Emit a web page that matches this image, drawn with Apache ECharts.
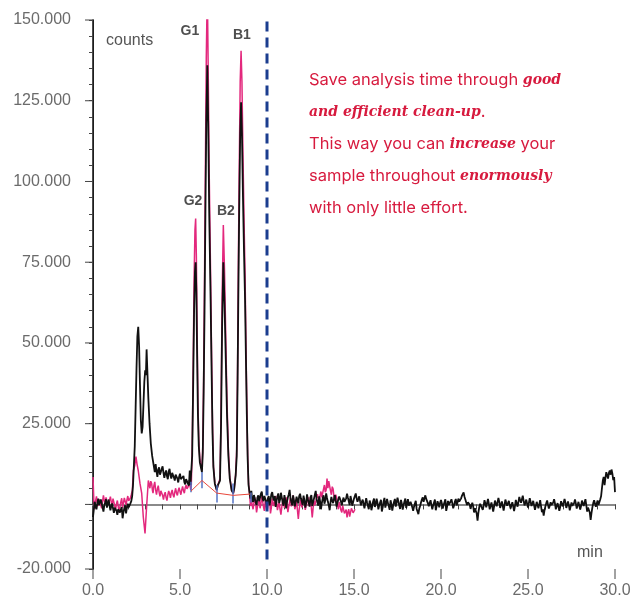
<!DOCTYPE html>
<html>
<head>
<meta charset="utf-8">
<script src="https://cdn.jsdelivr.net/npm/echarts@6/dist/echarts.min.js"></script>
<style>
  html, body { margin: 0; padding: 0; background: #fff; }
  #main { width: 637px; height: 603px; }
</style>
</head>
<body>
<div id="main"></div>
<script>
// black trace: [min, counts]
var blackTrace = [
  [0.0,-3900],[0.05,-1500],[0.1,800],[0.15,-700],[0.2,-1500],[0.25,400],[0.3,1800],[0.35,-200],[0.4,-600],[0.45,1500],
  [0.5,1200],[0.55,-900],[0.6,-2200],[0.65,-300],[0.7,600],[0.75,1600],[0.8,-1000],[0.85,300],[0.9,1500],[0.95,-400],
  [1.0,-1800],[1.05,-600],[1.1,300],[1.15,-1200],[1.2,-2600],[1.25,-1000],[1.3,-500],[1.35,-2000],[1.4,-3200],[1.45,-1500],
  [1.5,-900],[1.55,-2500],[1.6,-2400],[1.65,-800],[1.7,-4300],[1.75,-2500],[1.8,-1200],[1.85,-300],[1.9,-2800],[1.95,-1000],
  [2.0,200],[2.05,-900],[2.1,-1500],[2.15,300],[2.2,1000],[2.25,2500],[2.3,6000],
  [2.4,18000],[2.45,30000],[2.5,42000],[2.55,52000],[2.6,55000],[2.65,49000],
  [2.7,37000],[2.75,26000],[2.8,22000],[2.85,24000],[2.9,31000],[2.95,38000],[3.0,41500],[3.04,40000],[3.08,48000],[3.12,42000],
  [3.18,33000],[3.25,25000],[3.32,19000],[3.4,15000],[3.47,12700],
  [3.55,10000],[3.6,12500],[3.65,10200],[3.7,8500],[3.75,10800],[3.8,11500],[3.85,9200],[3.9,9000],[3.95,11000],[4.0,11800],
  [4.05,9800],[4.1,8200],[4.15,9600],[4.2,10500],[4.25,8800],[4.3,7800],[4.35,10200],[4.4,11000],[4.45,9000],[4.5,8000],
  [4.55,9800],[4.6,10200],[4.65,8300],[4.7,7400],[4.75,9200],[4.8,9800],[4.85,8000],[4.9,6800],[4.95,8600],[5.0,9500],
  [5.05,7800],[5.1,7200],[5.15,8300],[5.2,8800],[5.25,6900],[5.3,6200],[5.35,7800],[5.4,8400],[5.45,6600],[5.5,5800],
  [5.53,7500],[5.56,10500],[5.6,6000],[5.65,6000],
  // G2
  [5.7,15000],[5.76,38000],[5.81,60000],[5.86,72000],[5.9,75000],[5.94,66000],[5.98,48000],[6.03,28000],[6.08,18000],[6.14,13000],
  [6.2,11500],[6.26,10000],
  // G1
  [6.31,16000],[6.36,35000],[6.41,60000],[6.46,90000],[6.51,118000],[6.57,136000],[6.62,118000],[6.68,90000],[6.76,63000],[6.82,40000],
  [6.87,22000],[6.92,11500],[7.0,6500],[7.11,4500],
  // B2
  [7.18,6000],[7.3,7400],[7.36,25000],[7.42,55000],[7.49,75000],[7.56,62000],[7.63,45000],[7.7,28000],[7.78,15000],[7.86,8000],
  [7.97,4300],[8.06,3500],
  // B1
  [8.12,5000],[8.2,9000],[8.26,15000],[8.31,38000],[8.35,63000],[8.4,90000],[8.46,115000],[8.51,124500],[8.56,115000],[8.62,95000],
  [8.68,78000],[8.74,63000],[8.79,45000],[8.84,28000],[8.89,14000],[8.94,6000],[9.0,3500],
  // baseline after the peaks
  [9.05,1800],[9.1,4200],[9.15,1500],[9.2,800],[9.25,2900],[9.3,3500],[9.35,600],[9.4,-200],[9.45,2100],[9.5,2800],
  [9.55,1000],[9.6,500],[9.65,3300],[9.7,4000],[9.75,1700],[9.8,1000],[9.85,2600],[9.9,3200],[9.95,900],[10.0,-500],
  [10.05,1900],[10.1,2600],[10.15,-300],[10.2,300],[10.25,3100],[10.3,3800],[10.35,2000],[10.4,1200],[10.45,2600],[10.5,-800],
  [10.55,1100],[10.6,2500],[10.65,3400],[10.7,400],[10.75,1500],[10.8,3600],[10.85,2200],[10.9,600],[10.95,-400],[11.0,2900],
  [11.05,1500],[11.1,-1200],[11.15,800],[11.2,2200],[11.25,3100],[11.3,4500],[11.35,1900],[11.4,700],[11.45,-300],[11.5,2800],
  [11.55,3400],[11.6,-600],[11.65,900],[11.7,2400],[11.75,1200],[11.8,300],[11.85,2600],[11.9,3300],[11.95,1800],[12.0,900],
  [12.05,-200],[12.1,2700],[12.15,1300],[12.2,-1000],[12.25,400],[12.3,3100],[12.35,1600],[12.4,500],[12.45,-700],[12.5,2200],
  [12.55,2900],[12.6,-500],[12.65,700],[12.7,1800],[12.75,3000],[12.8,4200],[12.85,1700],[12.9,600],[12.95,-400],[13.0,2500],
  [13.05,1000],[13.1,-1500],[13.15,300],[13.2,1900],[13.25,2800],[13.3,200],[13.35,1300],[13.4,3400],[13.45,2000],[13.5,800],
  [13.55,-300],[13.6,-1800],[13.65,600],[13.7,2300],[13.75,1100],[13.8,400],[13.85,1700],[13.9,2900],[13.95,1200],[14.0,-700],
  [14.05,500],[14.1,1600],[14.15,2400],[14.2,3000],[14.25,900],[14.3,-300],[14.35,1200],[14.4,2100],[14.45,800],[14.5,200],
  [14.55,1900],[14.6,3300],[14.65,2100],[14.7,1000],[14.75,-200],[14.8,2600],[14.85,1300],[14.9,-400],[14.95,700],[15.0,1800],
  [15.05,2600],[15.1,3400],[15.15,1900],[15.2,800],[15.25,1700],[15.3,2500],[15.35,1000],[15.4,-300],[15.45,800],[15.5,1500],
  [15.55,200],[15.6,-1200],[15.65,400],[15.7,1900],[15.75,600],[15.8,-500],[15.85,-1500],[15.9,1200],[15.95,300],[16.0,-1800],
  [16.05,-600],[16.1,1000],[16.15,1800],[16.2,-800],[16.25,200],[16.3,1800],[16.35,500],[16.4,-1500],[16.45,-300],[16.5,600],
  [16.55,1400],[16.6,-2200],[16.65,-900],[16.7,900],[16.75,2000],[16.8,-1000],[16.85,300],[16.9,1700],[16.95,400],[17.0,-600],
  [17.05,-1700],[17.1,1300],[17.15,100],[17.2,-1900],[17.25,-400],[17.3,800],[17.35,1700],[17.4,-700],[17.45,600],[17.5,2100],
  [17.55,900],[17.6,-300],[17.65,-1400],[17.7,1400],[17.75,200],[17.8,-1600],[17.85,-200],[17.9,900],[17.95,1800],[18.0,-1100],
  [18.05,300],[18.1,1600],[18.15,-400],[18.2,-800],[18.25,800],[18.3,1200],[18.35,-900],[18.4,-2000],[18.45,-700],[18.5,300],
  [18.55,1100],[18.6,-1400],[18.65,-2200],[18.7,-3000],[18.75,-1300],[18.8,-500],[18.85,600],[18.9,1500],[18.95,2200],[19.0,800],
  [19.05,1900],[19.1,2800],[19.15,1700],[19.2,1200],[19.25,300],[19.3,-600],[19.35,500],[19.4,1300],[19.45,-200],[19.5,-1500],
  [19.55,-300],[19.6,600],[19.65,1500],[19.7,-1800],[19.75,-500],[19.8,1000],[19.85,200],[19.9,-900],[19.95,500],[20.0,1400],
  [20.05,300],[20.1,-1300],[20.15,-200],[20.2,700],[20.25,1600],[20.3,-2000],[20.35,-700],[20.4,1100],[20.45,-100],[20.5,-500],
  [20.55,900],[20.6,1600],[20.65,400],[20.7,-1200],[20.75,-300],[20.8,900],[20.85,1700],[20.9,-300],[20.95,600],[21.0,1800],
  [21.05,900],[21.1,700],[21.15,1800],[21.2,2600],[21.25,3100],[21.3,3700],[21.35,2400],[21.4,1500],[21.45,600],[21.5,-200],
  [21.55,700],[21.6,1200],[21.65,-100],[21.7,-1400],[21.75,-300],[21.8,500],[21.85,-600],[21.9,-2500],[21.95,-1200],[22.0,-1000],
  [22.05,-2800],[22.1,-5000],[22.15,-2500],[22.2,-800],[22.25,200],[22.3,800],[22.35,-300],[22.4,-1700],[22.45,-400],[22.5,1300],
  [22.55,300],[22.6,-900],[22.65,500],[22.7,1700],[22.75,200],[22.8,-1500],[22.85,-400],[22.9,600],[22.95,-800],[23.0,-2200],
  [23.05,-700],[23.1,1200],[23.15,300],[23.2,-600],[23.25,700],[23.3,2000],[23.35,800],[23.4,-1100],[23.45,-100],[23.5,900],
  [23.55,-500],[23.6,-1900],[23.65,-200],[23.7,1500],[23.75,500],[23.8,-400],[23.85,400],[23.9,1100],[23.95,-200],[24.0,-1300],
  [24.05,-300],[24.1,700],[24.15,-600],[24.2,-2100],[24.25,-500],[24.3,1400],[24.35,300],[24.4,-700],[24.45,800],[24.5,2300],
  [24.55,1200],[24.6,500],[24.65,1600],[24.7,2700],[24.75,1100],[24.8,-300],[24.85,500],[24.9,1500],[24.95,200],[25.0,-1000],
  [25.05,400],[25.1,1900],[25.15,800],[25.2,-500],[25.25,200],[25.3,1100],[25.35,-300],[25.4,-1700],[25.45,-500],[25.5,800],
  [25.55,-200],[25.6,-1200],[25.65,100],[25.7,1300],[25.75,-600],[25.8,-2400],[25.85,-1500],[25.9,-3500],[25.95,-1800],[26.0,-600],
  [26.05,400],[26.1,1200],[26.15,-100],[26.2,-1300],[26.25,-400],[26.3,700],[26.35,-200],[26.4,-800],[26.45,600],[26.5,1600],
  [26.55,300],[26.6,-1500],[26.65,-500],[26.7,400],[26.75,-700],[26.8,-2000],[26.85,-800],[26.9,1000],[26.95,200],[27.0,-600],
  [27.05,500],[27.1,1700],[27.15,600],[27.2,-1100],[27.25,-200],[27.3,900],[27.35,-300],[27.4,-1800],[27.45,-600],[27.5,600],
  [27.55,-400],[27.6,-900],[27.65,400],[27.7,1500],[27.75,300],[27.8,-1300],[27.85,-300],[27.9,800],[27.95,-400],[28.0,-1600],
  [28.05,-500],[28.1,1200],[28.15,300],[28.2,-500],[28.25,600],[28.3,1600],[28.35,-200],[28.4,-2200],[28.45,-1000],[28.5,-800],
  [28.55,-2500],[28.6,-4800],[28.65,-2600],[28.7,-900],[28.75,400],[28.8,1300],[28.85,200],[28.9,-700],[28.95,300],[29.0,1200],
  [29.05,-200],[29.1,300],[29.15,1500],[29.2,2500],[29.25,5000],[29.3,7400],[29.35,8500],[29.4,6000],[29.45,8200],[29.5,10000],
  [29.55,9000],[29.6,8000],[29.65,9800],[29.7,10500],[29.75,9200],[29.8,10800],[29.85,9500],[29.9,7500],[29.95,8500],[30.0,3800]
];

// pink trace: [min, counts]
var pinkTrace = [
  [0.0,8500],[0.05,1000],[0.1,-1500],[0.15,1200],[0.2,2500],[0.25,500],[0.3,-500],[0.35,1600],[0.4,2000],[0.45,-300],
  [0.5,-1200],[0.55,1000],[0.6,2800],[0.65,1200],[0.7,300],[0.75,2200],[0.8,1800],[0.85,-200],[0.9,-800],[0.95,1300],
  [1.0,2400],[1.05,700],[1.1,-300],[1.15,1800],[1.2,1500],[1.25,-500],[1.3,-1800],[1.35,200],[1.4,1200],[1.45,-600],
  [1.5,-2500],[1.55,-700],[1.6,800],[1.65,1900],[1.7,-1000],[1.75,500],[1.8,2000],[1.85,900],[1.9,-200],[1.95,1400],
  [2.0,2600],[2.05,1100],[2.1,500],[2.15,2000],[2.2,3000],
  [2.26,4300],[2.32,10500],[2.4,12000],[2.47,14800],[2.53,12500],[2.6,10500],
  [2.7,6500],[2.8,3400],[2.89,-3900],[2.99,-9000],[3.08,-800],[3.18,7400],[3.27,5000],[3.32,7200],[3.37,6500],[3.42,4200],
  [3.45,3500],[3.5,5800],[3.55,7000],[3.6,4500],[3.65,3000],[3.7,4800],[3.75,5800],[3.8,3800],[3.85,2500],[3.9,4200],
  [3.95,4800],[4.0,2800],[4.05,1500],[4.1,3000],[4.15,3800],[4.2,2200],[4.25,1200],[4.3,2900],[4.35,4200],[4.4,3300],
  [4.45,2000],[4.5,3600],[4.55,4500],[4.6,3000],[4.65,2200],[4.7,3800],[4.75,5000],[4.8,3500],[4.85,2800],[4.9,4300],
  [4.95,5200],[5.0,4000],[5.05,3000],[5.1,4500],[5.15,5600],[5.2,4200],[5.25,3500],[5.3,5200],[5.35,6000],[5.4,4800],
  [5.45,4200],[5.5,5800],[5.55,6500],[5.62,4500],[5.65,6000],
  [5.7,17000],[5.76,44000],[5.81,70000],[5.86,85000],[5.9,88500],[5.94,77000],[5.98,56000],[6.03,32000],[6.08,20000],[6.14,14000],
  [6.2,12000],[6.26,10500],
  [6.31,18000],[6.36,40000],[6.41,70000],[6.46,105000],[6.51,138000],[6.57,160000],[6.62,135000],[6.68,102000],[6.76,70000],[6.82,44000],
  [6.87,24000],[6.92,12000],[7.0,6500],[7.11,4300],
  [7.18,6000],[7.3,8000],[7.36,29000],[7.42,64000],[7.49,86500],[7.56,72000],[7.63,52000],[7.7,32000],[7.78,17000],[7.86,8500],
  [7.97,4300],[8.06,3300],
  [8.12,5000],[8.2,9500],[8.26,17000],[8.31,43000],[8.35,72000],[8.4,102000],[8.46,131000],[8.51,140500],[8.56,131000],[8.62,108000],
  [8.68,88000],[8.74,71000],[8.79,50000],[8.84,31000],[8.89,15000],[8.94,6500],[9.0,3000],
  [9.05,-500],[9.1,1500],[9.15,-200],[9.2,-1500],[9.25,600],[9.3,2200],[9.35,300],[9.4,-2500],[9.45,-800],[9.5,800],
  [9.55,1900],[9.6,-1200],[9.65,200],[9.7,2500],[9.75,900],[9.8,-800],[9.85,-2000],[9.9,1200],[9.95,-300],[10.0,-2000],
  [10.05,-500],[10.1,600],[10.15,1800],[10.2,-2800],[10.25,-1000],[10.3,1800],[10.35,400],[10.4,-500],[10.45,1200],[10.5,2600],
  [10.55,500],[10.6,-1800],[10.65,-400],[10.7,700],[10.75,-1500],[10.8,-3200],[10.85,-800],[10.9,1000],[10.95,2000],[11.0,-1000],
  [11.05,300],[11.1,2200],[11.15,100],[11.2,-2400],[11.25,-700],[11.3,900],[11.35,2100],[11.4,-600],[11.45,600],[11.5,2800],
  [11.55,1000],[11.6,-1500],[11.65,-300],[11.7,1200],[11.75,-1800],[11.8,-4500],[11.85,-1500],[11.9,500],[11.95,1500],[12.0,-900],
  [12.05,400],[12.1,2000],[12.15,300],[12.2,-1700],[12.25,-200],[12.3,1500],[12.35,2300],[12.4,-500],[12.45,800],[12.5,2400],
  [12.55,-1000],[12.6,-4000],[12.65,-1200],[12.7,1200],[12.75,-300],[12.8,800],[12.85,2200],[12.9,3200],[12.95,1800],[13.0,1000],
  [13.05,2800],[13.1,4000],[13.15,2200],[13.2,2500],[13.25,4800],[13.3,6000],[13.35,3800],[13.4,4500],[13.45,8000],[13.5,5000],
  [13.55,7200],[13.6,6800],[13.65,4200],[13.7,3000],[13.75,5500],[13.8,4800],[13.85,2200],[13.9,1000],[13.95,3000],[14.0,2200],
  [14.05,-200],[14.1,-1500],[14.15,800],[14.2,500],[14.25,-1800],[14.3,-2500],[14.35,-400],[14.4,-800],[14.45,-2800],[14.5,-3200],
  [14.55,-1600],[14.6,-4000],[14.65,-2400],[14.7,-1500],[14.75,-3800],[14.8,-3500],[14.85,-1200],[14.9,-800],[14.95,-2600],[15.0,-2800],
  [15.06,-1500]
];

// integration baseline and peak boundary marks
var baselineFit = [[5.63,4100],[6.26,7400],[7.11,3500],[8.06,2800],[9.04,3200]];
var dropMarks = [[5.63,7000,3800],[6.26,10000,5000],[7.11,5900,600],[8.06,6500,300],[9.06,3700,600]];

// peak names and label anchor [min, counts]
var peakNames = ['G1', 'B1', 'G2', 'B2'];
var peakLabelPos = [[5.57,146600],[8.56,145400],[5.75,93900],[7.64,90800]];

var cutoffTime = 10;
var xMajorTicks = [0, 5, 10, 15, 20, 25, 30];
var yLabelValues = [-20000, 25000, 50000, 75000, 100000, 125000, 150000];
var yMajorTicks = [-20000, 0, 25000, 50000, 75000, 100000, 125000, 150000];

var chart = echarts.init(document.getElementById('main'));

var axisFont = { color: '#6b6b6b', fontSize: 16, fontFamily: 'Liberation Sans' };

// longer marks for the main ticks, drawn through the axis scale
function majorTick(dx, dy) {
    return function (params, api) {
        var p = api.coord([api.value(0), api.value(1)]);
        return {
            type: 'line',
            shape: { x1: p[0] + dx, y1: p[1] + dy, x2: p[0], y2: p[1] },
            style: { stroke: '#444', lineWidth: 1 }
        };
    };
}

chart.setOption({
    animation: false,
    grid: { left: 93, right: 22, top: 20, bottom: 34 },
    xAxis: [
        {
            type: 'value', min: 0, max: 30, interval: 1,
            axisLine: { lineStyle: { color: '#333', width: 1 } },
            axisTick: { length: 5, lineStyle: { color: '#444' } },
            splitLine: { show: false },
            axisLabel: Object.assign({
                margin: 14,
                formatter: function (v) { return xMajorTicks.indexOf(v) >= 0 ? v.toFixed(1) : ''; }
            }, axisFont)
        },
        {
            type: 'value', min: 0, max: 30, position: 'top',
            axisLine: { show: true, lineStyle: { color: '#8a8a8a', width: 2 } },
            axisTick: { show: false }, axisLabel: { show: false }, splitLine: { show: false }
        }
    ],
    yAxis: [
        {
            type: 'value', min: -20000, max: 150000, interval: 5000,
            axisLine: { show: true, lineStyle: { color: '#444', width: 1 } },
            axisTick: { show: true, length: 4, lineStyle: { color: '#444' } },
            splitLine: { show: false },
            axisLabel: Object.assign({
                margin: 22,
                formatter: function (v) {
                    return yLabelValues.indexOf(v) >= 0 ? (v / 1000).toFixed(3) : '';
                }
            }, axisFont)
        },
        {
            type: 'value', min: -20000, max: 150000, position: 'right',
            axisLine: { show: true, lineStyle: { color: '#111', width: 1.5 } },
            axisTick: { show: false }, axisLabel: { show: false }, splitLine: { show: false }
        }
    ],
    graphic: [
        { type: 'text', left: 106, top: 33, style: { text: 'counts', fill: '#555', font: '16px "Liberation Sans"' } },
        { type: 'text', left: 577, top: 545, style: { text: 'min', fill: '#555', font: '16px "Liberation Sans"' } },
        {
            type: 'text', left: 309, top: 72,
            style: {
                text: '{r|Save analysis time through }{b|good}\n' +
                      '{b|and efficient clean-up}{r|.}\n' +
                      '{r|This way you can }{b|increase}{r| your}\n' +
                      '{r|sample throughout }{b|enormously}\n' +
                      '{r|with only little effort.}',
                rich: {
                    r: { fill: '#d71a3e', fontFamily: 'Inter', fontSize: 16.5, lineHeight: 32 },
                    b: { fill: '#d71a3e', fontFamily: 'DejaVu Serif', fontStyle: 'italic', fontWeight: 'bold', fontSize: 14, lineHeight: 32 }
                }
            }
        }
    ],
    series: [
        {
            name: 'pink', type: 'line', data: pinkTrace, symbol: 'none', sampling: 'none',
            lineStyle: { color: '#e3287d', width: 1.5 }, z: 2
        },
        {
            name: 'black', type: 'line', data: blackTrace, symbol: 'none', sampling: 'none',
            lineStyle: { color: '#111', width: 1.8 }, z: 3
        },
        {
            name: 'baseline', type: 'line', data: baselineFit, symbol: 'none',
            lineStyle: { color: '#e8463a', width: 1 }, z: 4
        },
        {
            name: 'drops', type: 'lines', coordinateSystem: 'cartesian2d', silent: true,
            data: dropMarks.map(function (d) { return { coords: [[d[0], d[1]], [d[0], d[2]]] }; }),
            lineStyle: { color: '#5473c4', width: 1.5, opacity: 1 }, z: 4
        },
        {
            name: 'cutoff', type: 'line', symbol: 'none',
            data: [[cutoffTime, 149500], [cutoffTime, -18000]],
            lineStyle: { color: '#1b3d8f', width: 3, type: [10, 6] }, z: 5
        },
        {
            name: 'peaks', type: 'scatter', symbolSize: 0, silent: true,
            data: peakLabelPos.map(function (p, i) { return { value: p, name: peakNames[i] }; }),
            label: {
                show: true, position: 'inside', formatter: '{b}',
                color: '#222', fontSize: 14, fontWeight: 'bold', fontFamily: 'Liberation Sans'
            }, z: 6
        },
        {
            name: 'yMajorTicks', type: 'custom', silent: true, clip: false,
            data: yMajorTicks.map(function (v) { return [0, v]; }),
            renderItem: majorTick(-8, 0), z: 6
        },
        {
            name: 'xMajorTicks', type: 'custom', silent: true, clip: false,
            data: xMajorTicks.map(function (t) { return [t, -20000]; }),
            renderItem: majorTick(0, 10), z: 6
        }
    ]
});
</script>
</body>
</html>
